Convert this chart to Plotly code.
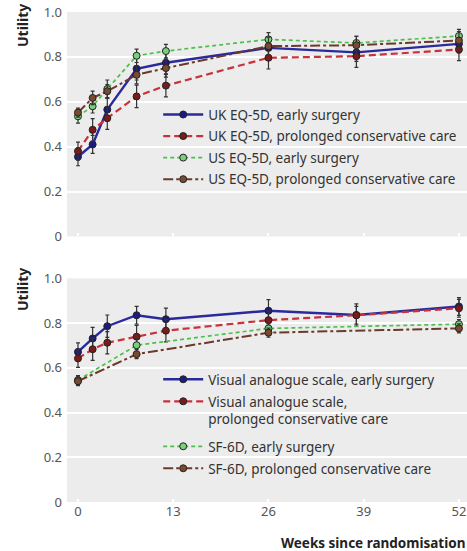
import plotly.graph_objects as go

# ---------------- data ----------------
weeks = [0, 2, 4, 8, 12, 26, 38, 52]
sf_weeks = [0, 8, 26, 52]

# top panel: EQ-5D
uk_early = [0.355, 0.41, 0.565, 0.747, 0.774, 0.840, 0.820, 0.858]
uk_early_err = [0.04, 0.04, 0.05, 0.05, 0.05, 0.05, 0.04, 0.04]
uk_prol = [0.38, 0.475, 0.527, 0.624, 0.672, 0.796, 0.803, 0.833]
uk_prol_err = [0.04, 0.05, 0.05, 0.05, 0.05, 0.05, 0.05, 0.05]
us_early = [0.535, 0.58, 0.657, 0.805, 0.826, 0.878, 0.862, 0.893]
us_early_err = [0.03, 0.03, 0.04, 0.03, 0.03, 0.03, 0.03, 0.03]
us_prol = [0.552, 0.617, 0.647, 0.72, 0.75, 0.848, 0.852, 0.873]
us_prol_err = [0.02, 0.03, 0.03, 0.04, 0.04, 0.04, 0.04, 0.04]

# bottom panel: VAS and SF-6D
vas_early = [0.671, 0.731, 0.786, 0.835, 0.817, 0.855, 0.836, 0.874]
vas_early_err = [0.04, 0.05, 0.05, 0.04, 0.05, 0.05, 0.05, 0.04]
vas_prol = [0.642, 0.683, 0.712, 0.739, 0.766, 0.813, 0.835, 0.866]
vas_prol_err = [0.04, 0.05, 0.05, 0.05, 0.05, 0.04, 0.04, 0.04]
sf_early = [0.545, 0.701, 0.776, 0.795]
sf_early_err = [0.02, 0.03, 0.02, 0.02]
sf_prol = [0.54, 0.661, 0.757, 0.776]
sf_prol_err = [0.02, 0.02, 0.02, 0.02]

y_ticks = [0, 0.2, 0.4, 0.6, 0.8, 1.0]
y_ticktext = ["0", "0.2", "0.4", "0.6", "0.8", "1.0"]
x_ticks = [0, 13, 26, 39, 52]
x_ticktext = ["0", "13", "26", "39", "52"]

top_names = ["UK EQ-5D, early surgery", "UK EQ-5D, prolonged conservative care",
             "US EQ-5D, early surgery", "US EQ-5D, prolonged conservative care"]
bot_names = ["Visual analogue scale, early surgery",
             "Visual analogue scale,<br>prolonged conservative care",
             "SF-6D, early surgery", "SF-6D, prolonged conservative care"]

# ---------------- styles ----------------
BLUE, BLUE_M = "#2a2a9c", "#1c1c80"
RED, RED_M = "#c8323a", "#7a1a1a"
GREEN, GREEN_M = "#4cc04c", "#7ad07a"
BROWN, BROWN_M = "#6a3a2c", "#7a4a30"

styles = [
    (BLUE, BLUE_M, "solid", 2.4),
    (RED, RED_M, "7px,4px", 2.2),
    (GREEN, GREEN_M, "4px,3px", 1.7),
    (BROWN, BROWN_M, "10px,3px,3px,3px", 2.0),
]

fig = go.Figure()

def add(x, y, err, name, style, xaxis, yaxis, legend, group):
    col, mcol, dash, w = style
    fig.add_trace(go.Scatter(
        x=x, y=y, name=name, mode="lines+markers",
        line=dict(color=col, width=w, dash=dash),
        marker=dict(size=7, color=mcol, line=dict(color="#222222", width=1)),
        error_y=dict(type="data", array=err, color="#333333", thickness=1.2, width=2),
        xaxis=xaxis, yaxis=yaxis, legend=legend, legendgroup=group,
    ))

top_data = [(uk_early, uk_early_err), (uk_prol, uk_prol_err),
            (us_early, us_early_err), (us_prol, us_prol_err)]
for i, ((y, e), n) in enumerate(zip(top_data, top_names)):
    add(weeks, y, e, n, styles[i], "x", "y", "legend", f"t{i}")

bot_data = [(weeks, vas_early, vas_early_err), (weeks, vas_prol, vas_prol_err),
            (sf_weeks, sf_early, sf_early_err), (sf_weeks, sf_prol, sf_prol_err)]
bot_legends = ["legend2", "legend3", "legend4", "legend5"]
for i, ((x, y, e), n) in enumerate(zip(bot_data, bot_names)):
    add(x, y, e, n, styles[i], "x2", "y2", bot_legends[i], f"b{i}")

BG = "#ececec"
FONT = "Noto Sans"
tickfont = dict(family=FONT, size=13, color="#555555")

xcommon = dict(range=[-1.5, 53.1], tickvals=x_ticks, ticktext=x_ticktext,
               showgrid=False, zeroline=False, ticks="inside", ticklen=3,
               tickcolor="white", tickwidth=1.5, tickfont=tickfont)
ycommon = dict(range=[0, 1.0], tickvals=y_ticks, ticktext=y_ticktext,
               showgrid=True, gridcolor="white", gridwidth=2, zeroline=False,
               tickfont=tickfont, ticklabelstandoff=4)

legend_common = dict(bgcolor="rgba(0,0,0,0)", font=dict(family=FONT, size=13.5, color="#333333"),
                     traceorder="grouped", tracegroupgap=1, itemwidth=40, valign="top",
                     xanchor="left", yanchor="top")

LX = 0.228

def ytop(px):
    return 1 - (px - 12) / 490

fig.update_layout(
    width=467, height=551,
    margin=dict(l=67, r=0, t=12, b=49),
    paper_bgcolor="white", plot_bgcolor=BG,
    showlegend=True,
    xaxis=dict(domain=[0, 1], anchor="y", showticklabels=False, **xcommon),
    yaxis=dict(domain=[0.542, 1.0], anchor="x", **ycommon),
    xaxis2=dict(domain=[0, 1], anchor="y2", showticklabels=True, **xcommon),
    yaxis2=dict(domain=[0.0, 0.4565], anchor="x2", **ycommon),
    legend=dict(x=LX, y=0.822, **legend_common),
    legend2=dict(x=LX, y=ytop(364), **legend_common),
    legend3=dict(x=LX, y=ytop(386), **legend_common),
    legend4=dict(x=LX, y=ytop(431), **legend_common),
    legend5=dict(x=LX, y=ytop(453), **legend_common),
    annotations=[
        dict(text="<b>Utility</b>", xref="paper", yref="paper",
             x=(22 - 67) / 400, y=ytop(26), textangle=-90,
             showarrow=False, xanchor="center", yanchor="middle",
             font=dict(family=FONT, size=14, color="#222222")),
        dict(text="<b>Utility</b>", xref="paper", yref="paper",
             x=(22 - 67) / 400, y=ytop(290), textangle=-90,
             showarrow=False, xanchor="center", yanchor="middle",
             font=dict(family=FONT, size=14, color="#222222")),
        dict(text="<b>Weeks since randomisation</b>", xref="paper", yref="paper",
             x=1.0, y=ytop(543), showarrow=False,
             xanchor="right", yanchor="middle",
             font=dict(family=FONT, size=13.5, color="#222222")),
    ],
)

fig.write_html("out.html", config={"displayModeBar": False},
               post_script="document.body.style.margin='0';document.body.style.overflow='hidden';")
